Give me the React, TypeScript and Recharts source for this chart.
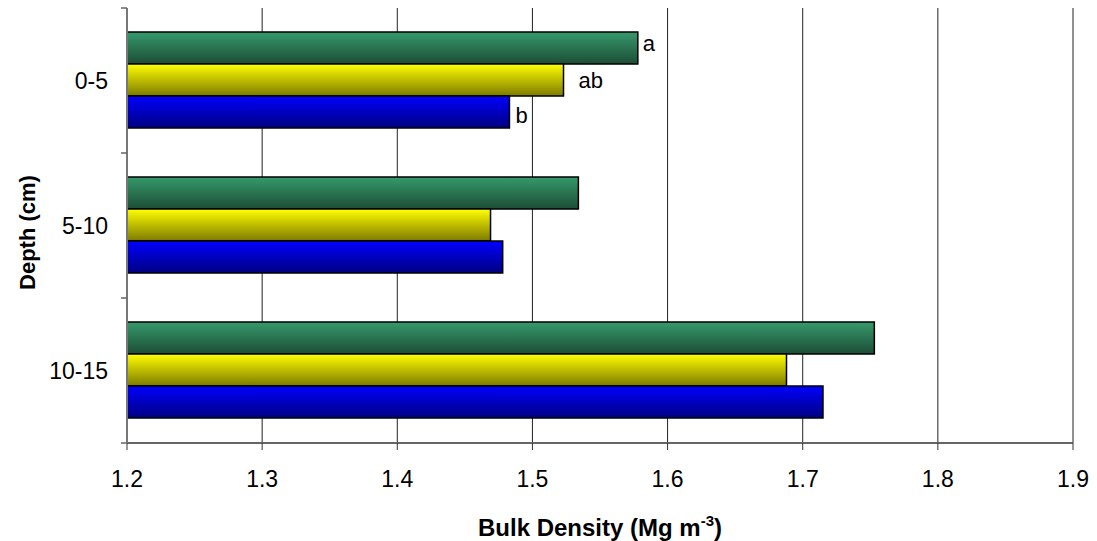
import React from 'react';
import { BarChart, Bar, XAxis, YAxis, CartesianGrid, LabelList } from 'recharts';

// depth classes and bulk density per treatment
const depths = ['0-5', '5-10', '10-15'];
const greenValues = [1.578, 1.534, 1.753];
const yellowValues = [1.523, 1.469, 1.688];
const blueValues = [1.483, 1.478, 1.715];
const greenLetters = ['a', '', ''];
const yellowLetters = ['ab', '', ''];
const blueLetters = ['b', '', ''];
const densityTicks = [1.2, 1.3, 1.4, 1.5, 1.6, 1.7, 1.8, 1.9];

const FONT = '"Liberation Sans", Arial, sans-serif';

const data = depths.map((depth, i) => ({
  depth,
  green: greenValues[i],
  yellow: yellowValues[i],
  blue: blueValues[i],
  greenLetter: greenLetters[i],
  yellowLetter: yellowLetters[i],
  blueLetter: blueLetters[i],
}));

const DepthTick = (props: any) => {
  const { x, y, payload, index, visibleTicksCount } = props;
  const half = payload?.offset ?? 0;
  return (
    <g>
      <line x1={x + 13} x2={x + 19} y1={y - half} y2={y - half} stroke="#666" strokeWidth={1.5} />
      {index === visibleTicksCount - 1 && (
        <line x1={x + 13} x2={x + 19} y1={y + half} y2={y + half} stroke="#666" strokeWidth={1.5} />
      )}
      <text x={x} y={y} dy="0.355em" textAnchor="end" fontSize={23} fontFamily={FONT} fill="#000">
        {payload.value}
      </text>
    </g>
  );
};

const XTitle = (props: any) => {
  const vb = props.viewBox;
  return (
    <text
      x={vb.x + vb.width / 2}
      y={vb.y + vb.height - 5}
      textAnchor="middle"
      fontSize={24}
      fontWeight="bold"
      fontFamily={FONT}
      fill="#000"
    >
      Bulk Density (Mg m<tspan dy={-10} fontSize={15}>-3</tspan>
      <tspan dy={10}>)</tspan>
    </text>
  );
};

const YTitle = (props: any) => {
  const vb = props.viewBox;
  const cx = 35;
  const cy = vb.y + vb.height / 2 + 7;
  return (
    <text
      x={cx}
      y={cy}
      transform={`rotate(-90, ${cx}, ${cy})`}
      textAnchor="middle"
      fontSize={22}
      fontWeight="bold"
      fontFamily={FONT}
      fill="#000"
    >
      Depth (cm)
    </text>
  );
};

const App = () => {
  return (
    <div style={{ position: 'absolute', left: 0, top: 0, background: '#fff' }}>
      <BarChart
        width={1097}
        height={541}
        data={data}
        layout="vertical"
        margin={{ top: 8, right: 24, left: 0, bottom: 0 }}
        barCategoryGap={24}
        barGap={0}
      >
        <defs>
          <linearGradient id="gGreen" x1="0" y1="0" x2="0" y2="1">
            <stop offset="0%" stopColor="#36996b" />
            <stop offset="100%" stopColor="#1c4d36" />
          </linearGradient>
          <linearGradient id="gYellow" x1="0" y1="0" x2="0" y2="1">
            <stop offset="0%" stopColor="#ffff00" />
            <stop offset="100%" stopColor="#7d7a00" />
          </linearGradient>
          <linearGradient id="gBlue" x1="0" y1="0" x2="0" y2="1">
            <stop offset="0%" stopColor="#0000ff" />
            <stop offset="100%" stopColor="#000080" />
          </linearGradient>
        </defs>
        <CartesianGrid horizontal={false} stroke="#222" strokeWidth={1} />
        <XAxis
          type="number"
          domain={[1.2, 1.9]}
          ticks={densityTicks}
          tickFormatter={(v: number) => v.toFixed(1)}
          height={98}
          tickSize={7}
          tickMargin={21}
          axisLine={{ stroke: '#666', strokeWidth: 2 }}
          tickLine={{ stroke: '#333' }}
          tick={{ fill: '#000', fontSize: 23, fontFamily: FONT }}
          label={<XTitle />}
        />
        <YAxis
          type="category"
          dataKey="depth"
          width={127}
          tickSize={6}
          tickMargin={13}
          tickLine={false}
          axisLine={{ stroke: '#777', strokeWidth: 2 }}
          tick={<DepthTick />}
          label={<YTitle />}
        />
        <Bar dataKey="green" fill="url(#gGreen)" stroke="#000" strokeWidth={1.5} isAnimationActive={false}>
          <LabelList dataKey="greenLetter" position="right" offset={5} dy={-5} fill="#000" fontSize={22} fontFamily={FONT} />
        </Bar>
        <Bar dataKey="yellow" fill="url(#gYellow)" stroke="#000" strokeWidth={1.5} isAnimationActive={false}>
          <LabelList dataKey="yellowLetter" position="right" offset={15} fill="#000" fontSize={22} fontFamily={FONT} />
        </Bar>
        <Bar dataKey="blue" fill="url(#gBlue)" stroke="#000" strokeWidth={1.5} isAnimationActive={false}>
          <LabelList dataKey="blueLetter" position="right" offset={6} dy={3} fill="#000" fontSize={22} fontFamily={FONT} />
        </Bar>
      </BarChart>
    </div>
  );
};

export default App;
